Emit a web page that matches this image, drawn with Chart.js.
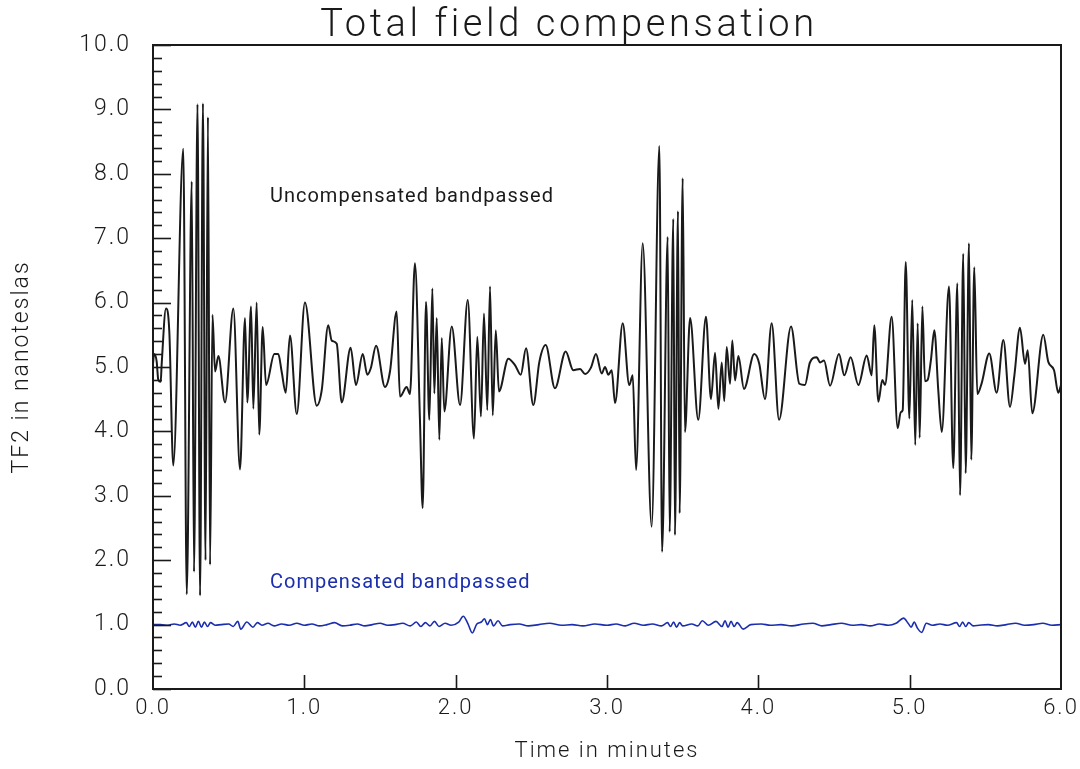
<!DOCTYPE html>
<html>
<head>
<meta charset="utf-8">
<script src="https://cdn.jsdelivr.net/npm/chart.js@4.4.1/dist/chart.umd.min.js"></script>
<style>
  html, body { margin: 0; padding: 0; background: #fff; }
  #wrap { width: 1080px; height: 769px; }
</style>
</head>
<body>
<div id="wrap"><canvas id="c" width="1080" height="769"></canvas></div>
<script>
// ---- data ----
const chartTitle = "Total field compensation";
const xTitle = "Time in minutes";
const yTitle = "TF2 in nanoteslas";
const labelUncomp = "Uncompensated bandpassed";
const labelComp = "Compensated bandpassed";

// uncompensated bandpassed: time (min) / value (nT)
const uncompTime = [
  0.000, 0.007, 0.024, 0.035, 0.051, 0.057, 0.086, 0.108, 0.134, 0.200,
  0.223, 0.256, 0.271, 0.294, 0.311, 0.330, 0.347, 0.363, 0.377, 0.393,
  0.410, 0.432, 0.476, 0.531, 0.575, 0.608, 0.623, 0.648, 0.663, 0.685,
  0.702, 0.725, 0.747, 0.802, 0.828, 0.850, 0.877, 0.905, 0.950, 1.004,
  1.082, 1.115, 1.158, 1.181, 1.214, 1.247, 1.306, 1.341, 1.386, 1.416,
  1.439, 1.474, 1.533, 1.566, 1.610, 1.632, 1.676, 1.698, 1.731, 1.764,
  1.782, 1.804, 1.826, 1.846, 1.859, 1.875, 1.892, 1.908, 1.925, 1.974,
  2.029, 2.080, 2.121, 2.143, 2.167, 2.187, 2.209, 2.227, 2.245, 2.265,
  2.286, 2.348, 2.392, 2.430, 2.465, 2.513, 2.553, 2.595, 2.656, 2.727,
  2.777, 2.822, 2.855, 2.894, 2.927, 2.965, 2.987, 3.009, 3.031, 3.053,
  3.104, 3.147, 3.170, 3.192, 3.236, 3.295, 3.346, 3.364, 3.401, 3.414,
  3.438, 3.449, 3.469, 3.480, 3.500, 3.515, 3.549, 3.603, 3.654, 3.687,
  3.714, 3.736, 3.758, 3.775, 3.791, 3.813, 3.828, 3.846, 3.868, 3.905,
  3.973, 4.006, 4.044, 4.088, 4.137, 4.216, 4.271, 4.308, 4.341, 4.386,
  4.408, 4.434, 4.474, 4.533, 4.568, 4.610, 4.661, 4.716, 4.749, 4.766,
  4.793, 4.819, 4.837, 4.881, 4.921, 4.941, 4.954, 4.974, 4.998, 5.017,
  5.037, 5.053, 5.066, 5.084, 5.101, 5.119, 5.141, 5.163, 5.189, 5.212,
  5.260, 5.288, 5.315, 5.333, 5.354, 5.370, 5.392, 5.407, 5.427, 5.447,
  5.476, 5.526, 5.575, 5.619, 5.663, 5.692, 5.729, 5.762, 5.780, 5.810,
  5.883, 5.916, 5.954, 5.982, 6.000
];
const uncompValue = [
  5.05, 5.20, 5.09, 4.80, 4.77, 5.03, 5.91, 5.54, 3.47, 8.39,
  1.47, 7.88, 1.82, 9.08, 1.45, 9.09, 2.00, 8.88, 1.93, 5.81,
  4.93, 5.17, 4.45, 5.91, 3.41, 5.76, 4.45, 5.94, 4.35, 6.00,
  3.95, 5.62, 4.72, 5.20, 5.20, 4.93, 4.60, 5.49, 4.27, 6.00,
  4.40, 4.64, 5.65, 5.41, 5.36, 4.45, 5.30, 4.72, 5.20, 4.88,
  4.98, 5.33, 4.69, 4.93, 5.86, 4.54, 4.69, 4.58, 6.61, 4.18,
  2.81, 6.01, 4.18, 6.22, 4.59, 5.76, 3.87, 5.45, 4.31, 5.63,
  4.41, 6.04, 3.89, 5.47, 4.23, 5.83, 4.33, 6.25, 4.25, 5.57,
  4.62, 5.13, 5.03, 4.88, 5.29, 4.41, 5.08, 5.34, 4.67, 5.24,
  4.95, 4.97, 4.89, 4.99, 5.20, 4.90, 5.00, 4.88, 4.95, 4.44,
  5.68, 4.72, 4.87, 3.40, 6.92, 2.52, 8.43, 2.13, 7.02, 2.44,
  7.30, 2.39, 7.42, 2.73, 7.93, 3.99, 5.76, 4.18, 5.78, 4.50,
  5.22, 4.35, 5.07, 4.47, 5.31, 4.74, 5.41, 4.79, 5.17, 4.66,
  5.20, 5.05, 4.50, 5.68, 4.18, 5.63, 4.74, 4.72, 5.07, 5.15,
  5.07, 5.10, 4.71, 5.20, 4.87, 5.15, 4.72, 5.18, 4.87, 5.65,
  4.46, 4.80, 4.72, 5.78, 4.05, 4.30, 4.33, 6.63, 4.20, 6.04,
  3.79, 5.68, 3.90, 5.94, 4.78, 4.80, 5.12, 5.57, 4.64, 3.99,
  6.25, 3.43, 6.30, 3.01, 6.76, 3.35, 6.92, 3.56, 6.55, 4.58,
  4.75, 5.21, 4.60, 5.42, 4.38, 4.87, 5.61, 5.05, 5.26, 4.28,
  5.50, 5.08, 4.95, 4.60, 4.72
];

// compensated bandpassed: time (min) / value (nT)
const compTime = [
  0.00, 0.05, 0.10, 0.14, 0.18, 0.22, 0.24, 0.26, 0.28, 0.30,
  0.32, 0.34, 0.36, 0.38, 0.41, 0.45, 0.50, 0.53, 0.56, 0.58,
  0.62, 0.66, 0.69, 0.72, 0.76, 0.80, 0.85, 0.90, 0.95, 1.00,
  1.05, 1.10, 1.15, 1.20, 1.25, 1.30, 1.35, 1.40, 1.45, 1.50,
  1.55, 1.60, 1.65, 1.70, 1.74, 1.77, 1.80, 1.83, 1.86, 1.89,
  1.93, 1.97, 2.02, 2.05, 2.08, 2.11, 2.14, 2.17, 2.19, 2.21,
  2.23, 2.25, 2.28, 2.31, 2.36, 2.42, 2.48, 2.55, 2.62, 2.70,
  2.77, 2.84, 2.92, 3.00, 3.06, 3.12, 3.18, 3.24, 3.30, 3.36,
  3.40, 3.42, 3.44, 3.46, 3.48, 3.50, 3.56, 3.60, 3.63, 3.67,
  3.72, 3.76, 3.78, 3.80, 3.82, 3.84, 3.86, 3.90, 3.95, 4.02,
  4.08, 4.15, 4.22, 4.30, 4.36, 4.42, 4.48, 4.55, 4.62, 4.68,
  4.74, 4.80, 4.86, 4.91, 4.96, 4.99, 5.01, 5.03, 5.05, 5.08,
  5.11, 5.15, 5.20, 5.25, 5.31, 5.33, 5.35, 5.37, 5.39, 5.42,
  5.46, 5.52, 5.58, 5.64, 5.70, 5.76, 5.82, 5.88, 5.94, 6.00
];
const compValue = [
  1.00, 1.00, 0.99, 1.01, 0.99, 1.03, 0.97, 1.04, 0.96, 1.05,
  0.96, 1.04, 0.97, 1.03, 0.99, 1.00, 1.01, 0.97, 1.05, 0.93,
  1.04, 0.96, 1.03, 0.99, 1.02, 0.98, 1.01, 0.99, 1.02, 0.99,
  1.01, 0.98, 1.00, 1.03, 0.98, 0.99, 1.01, 0.98, 1.00, 1.02,
  0.99, 1.00, 1.02, 0.98, 1.04, 0.97, 1.03, 0.98, 1.05, 0.97,
  1.02, 0.99, 1.04, 1.13, 1.02, 0.87, 1.01, 1.04, 1.09, 1.00,
  1.08, 0.98, 1.06, 0.98, 1.00, 1.01, 0.98, 1.00, 1.02, 0.99,
  1.00, 0.98, 1.01, 0.99, 1.01, 0.98, 1.02, 0.99, 1.01, 0.98,
  1.03, 0.97, 1.04, 0.96, 1.03, 0.98, 1.01, 0.98, 1.06, 0.99,
  1.05, 0.97, 1.06, 0.96, 1.05, 0.97, 1.03, 0.93, 1.00, 1.01,
  0.99, 1.00, 0.98, 1.01, 1.02, 0.98, 1.00, 1.02, 0.99, 1.00,
  0.98, 1.01, 0.99, 1.02, 1.10, 1.02, 0.96, 1.04, 0.95, 0.88,
  1.02, 0.99, 1.01, 0.99, 1.03, 0.97, 1.04, 0.97, 1.03, 0.98,
  0.99, 1.00, 0.98, 1.00, 1.02, 0.99, 1.00, 1.02, 0.99, 1.00
];

const xMin = 0, xMax = 6;
const yMin = 0, yMax = 10;

const ink = "#1a1a1a";
const blue = "#1b2fae";
const thinFont = "Roboto, 'Liberation Sans', sans-serif";

// the old plotter lettering is widely spaced
const spacing = {
  id: "spacing",
  beforeUpdate(chart) { chart.ctx.letterSpacing = "2px"; },
  beforeDraw(chart) { chart.ctx.letterSpacing = "2px"; }
};

// ---- plugin: box, inside ticks, title and series labels ----
const paperLook = {
  id: "paperLook",
  afterDraw(chart) {
    const { ctx, chartArea: { left, right, top, bottom }, scales: { x, y } } = chart;
    ctx.save();

    // ticks pointing into the plot
    ctx.strokeStyle = ink;
    ctx.lineWidth = 1.6;
    for (let i = 0; i <= (yMax - yMin) * 5; i++) {
      const v = yMin + i * 0.2;
      const py = Math.round(y.getPixelForValue(v)) + 0.5;
      const len = i % 5 === 0 ? 18 : 9;
      ctx.beginPath();
      ctx.moveTo(left, py);
      ctx.lineTo(left + len, py);
      ctx.stroke();
    }
    for (let v = xMin + 1; v < xMax; v++) {
      const px = Math.round(x.getPixelForValue(v)) + 0.5;
      ctx.beginPath();
      ctx.moveTo(px, bottom);
      ctx.lineTo(px, bottom - 14);
      ctx.stroke();
    }

    // frame
    ctx.lineWidth = 2;
    ctx.strokeRect(left, top, right - left, bottom - top);

    // title
    ctx.fillStyle = ink;
    ctx.letterSpacing = "3.6px";
    ctx.font = "300 38px " + thinFont;
    ctx.textAlign = "center";
    ctx.textBaseline = "alphabetic";
    ctx.fillText(chartTitle, 569, 36);

    // series labels
    ctx.letterSpacing = "1px";
    ctx.textAlign = "left";
    ctx.textBaseline = "middle";
    ctx.font = "400 20px " + thinFont;
    ctx.fillStyle = ink;
    ctx.fillText(labelUncomp, x.getPixelForValue(0.773), y.getPixelForValue(7.64));
    ctx.fillStyle = blue;
    ctx.fillText(labelComp, x.getPixelForValue(0.773), y.getPixelForValue(1.65));

    ctx.restore();
  }
};

const uncompPoints = uncompTime.map((t, i) => ({ x: t, y: uncompValue[i] }));
const compPoints = compTime.map((t, i) => ({ x: t, y: compValue[i] }));

new Chart(document.getElementById("c"), {
  type: "line",
  data: {
    datasets: [
      {
        label: labelUncomp,
        data: uncompPoints,
        borderColor: ink,
        borderWidth: 2,
        pointRadius: 0,
        cubicInterpolationMode: "monotone"
      },
      {
        label: labelComp,
        data: compPoints,
        borderColor: blue,
        borderWidth: 1.6,
        pointRadius: 0,
        cubicInterpolationMode: "monotone"
      }
    ]
  },
  options: {
    responsive: false,
    animation: false,
    layout: { padding: { left: 0, right: 19, top: 45, bottom: 0 } },
    plugins: {
      legend: { display: false },
      tooltip: { enabled: false },
      title: { display: false }
    },
    scales: {
      x: {
        type: "linear",
        min: xMin,
        max: xMax,
        border: { display: false },
        grid: { display: false, drawTicks: false },
        ticks: {
          stepSize: 1,
          padding: 6,
          color: ink,
          font: { family: thinFont, size: 22, weight: 300 },
          callback: v => v.toFixed(1)
        },
        title: {
          display: true,
          text: xTitle,
          color: ink,
          font: { family: thinFont, size: 22, weight: 300 },
          padding: { top: 18 }
        },
        afterFit: s => { s.height = 80; s.paddingLeft = 0; s.paddingRight = 0; }
      },
      y: {
        type: "linear",
        min: yMin,
        max: yMax,
        border: { display: false },
        grid: { display: false, drawTicks: false },
        ticks: {
          stepSize: 1,
          padding: 22,
          color: ink,
          font: { family: thinFont, size: 23, weight: 300 },
          callback: v => v.toFixed(1)
        },
        title: {
          display: true,
          text: yTitle,
          color: ink,
          font: { family: thinFont, size: 23, weight: 300 },
          padding: { top: 8 }
        },
        afterFit: s => { s.width = 153; s.paddingTop = 0; s.paddingBottom = 0; }
      }
    }
  },
  plugins: [spacing, paperLook]
});
</script>
</body>
</html>
